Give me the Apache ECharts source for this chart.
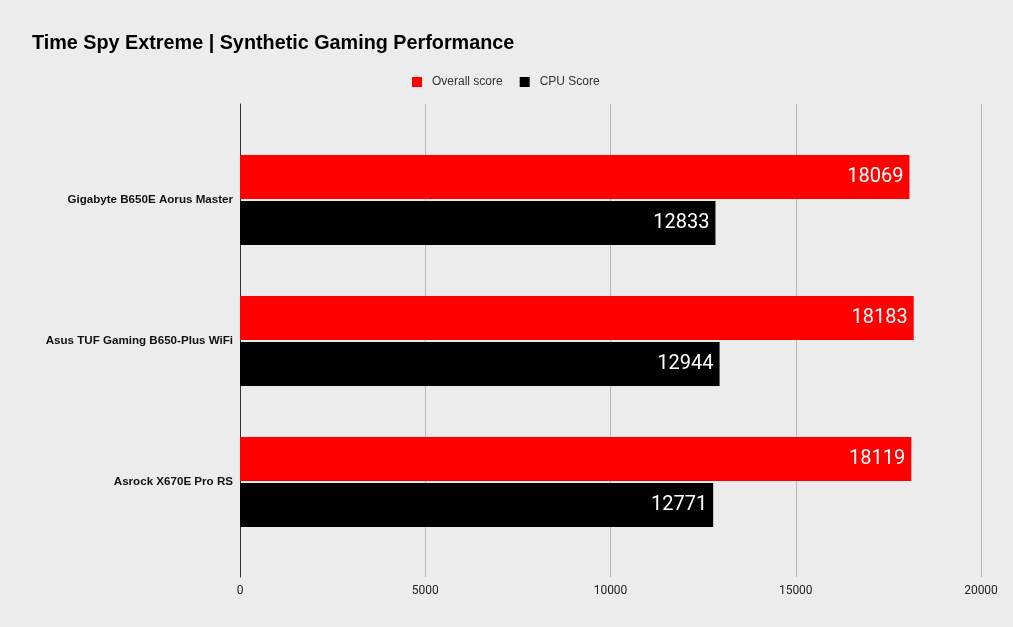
<!DOCTYPE html>
<html>
<head>
	<meta charset="utf-8">
	<title>Time Spy Extreme</title>
	<style>
		html,body{margin:0;padding:0;background:#ececec}
	</style>
</head>
<body>
<div id="main_echarts" style="width: 1013px;height:627px;"></div>
<script src="https://cdn.jsdelivr.net/npm/echarts@6/dist/echarts.min.js"></script>
<script>
	var boards = ['Gigabyte B650E Aorus Master', 'Asus TUF Gaming B650-Plus WiFi', 'Asrock X670E Pro RS'];
	var overallScore = [18069, 18183, 18119];
	var cpuScore = [12833, 12944, 12771];
	var xTicks = [0, 5000, 10000, 15000, 20000];

	var myChart = echarts.init(document.getElementById('main_echarts'));
	var barLabel = {
		show: true,
		position: 'insideRight',
		color: '#fff',
		fontSize: 20,
		fontFamily: 'Roboto',
		distance: 6
	};
	var option = {
		backgroundColor: '#ececec',
		textStyle: {fontFamily: 'Roboto'},
		title: {
			text: 'Time Spy Extreme | Synthetic Gaming Performance',
			left: 27,
			top: 29,
			textStyle: {fontSize: 19.8, fontWeight: 'bold', color: '#000', fontFamily: 'Liberation Sans'}
		},
		legend: {
			top: 71,
			left: 407,
			itemWidth: 10,
			itemHeight: 10,
			itemGap: 17,
			icon: 'rect',
			textStyle: {fontSize: 12, color: '#333', fontFamily: 'Liberation Sans', padding: [0, 0, 0, 5]},
			data: ['Overall score', 'CPU Score']
		},
		// grid 0: bars, grid 1: axis line, gridlines and tick labels
		grid: [
			{left: 240, right: 32, top: 129.5, bottom: 74.5},
			{left: 240, right: 32, top: 104, bottom: 50}
		],
		xAxis: [
			{
				type: 'value', gridIndex: 0, min: 0, max: 20000,
				show: false
			},
			{
				type: 'value', gridIndex: 1, min: 0, max: 20000, interval: 5000,
				axisLine: {show: false},
				axisTick: {show: false},
				splitLine: {show: true, lineStyle: {color: '#b8b8b8', width: 1}},
				axisLabel: {
					color: '#222', fontSize: 12, margin: 8,
					formatter: function (v) { return xTicks.indexOf(v) >= 0 ? String(v) : ''; }
				}
			}
		],
		yAxis: [
			{
				type: 'category', gridIndex: 0, inverse: true, data: boards,
				axisLine: {show: false},
				axisTick: {show: false},
				axisLabel: {color: '#111', fontSize: 11.6, fontWeight: 'bold', margin: 7, fontFamily: 'Liberation Sans'}
			},
			{
				type: 'category', gridIndex: 1, data: [''],
				axisLine: {show: true, lineStyle: {color: '#333', width: 1}},
				axisTick: {show: false},
				axisLabel: {show: false}
			}
		],
		series: [
			{
				name: 'Overall score', type: 'bar', xAxisIndex: 0, yAxisIndex: 0,
				data: overallScore, itemStyle: {color: '#ff0000'},
				barWidth: 44, barGap: '5%',
				label: barLabel
			},
			{
				name: 'CPU Score', type: 'bar', xAxisIndex: 0, yAxisIndex: 0,
				data: cpuScore, itemStyle: {color: '#000000'},
				barWidth: 44, barGap: '5%',
				label: barLabel
			}
		]
	};
	myChart.setOption(option);
</script>
</body>
</html>
